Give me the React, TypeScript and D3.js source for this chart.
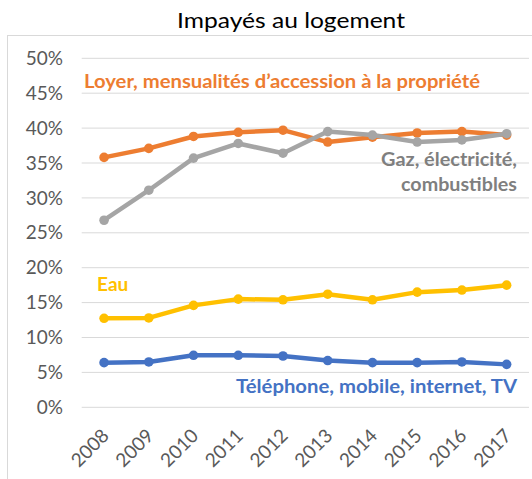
import React from "react";
import * as d3 from "d3";

const years = ["2008", "2009", "2010", "2011", "2012", "2013", "2014", "2015", "2016", "2017"];
const loyer = [35.8, 37.1, 38.8, 39.4, 39.7, 38.0, 38.7, 39.3, 39.5, 39.0];
const gaz = [26.8, 31.1, 35.7, 37.8, 36.4, 39.5, 39.0, 38.0, 38.3, 39.2];
const eau = [12.75, 12.8, 14.6, 15.5, 15.4, 16.2, 15.4, 16.5, 16.8, 17.5];
const telephone = [6.4, 6.5, 7.45, 7.45, 7.35, 6.7, 6.4, 6.4, 6.5, 6.15];
const yTicks = [0, 5, 10, 15, 20, 25, 30, 35, 40, 45, 50];

const FONT = "Lato, 'Open Sans', sans-serif";

const series = [
  { name: "Loyer", values: loyer, color: "#ED7D31" },
  { name: "Gaz", values: gaz, color: "#A5A5A5" },
  { name: "Eau", values: eau, color: "#FFC000" },
  { name: "Telephone", values: telephone, color: "#4472C4" },
];

export default function App() {
  const W = 532;
  const H = 479;
  const x = d3.scaleBand<string>().domain(years).range([81.7, 529]);
  const cx = (d: string) => (x(d) as number) + x.bandwidth() / 2;
  const y = d3.scaleLinear().domain([0, 50]).range([407.3, 58.3]);
  const line = d3
    .line<number>()
    .x((_, i) => cx(years[i]))
    .y((v) => y(v));

  return (
    <svg
      width={W}
      height={H}
      style={{ position: "absolute", left: 0, top: 0, background: "#fff" }}
      fontFamily={FONT}
    >
      <rect x={0} y={0} width={W} height={H} fill="#fff" />
      <rect x={7.5} y={35.5} width={W} height={H} fill="none" stroke="#D9D9D9" strokeWidth={1} />
      <text x={291} y={28} textAnchor="middle" fontSize={21.5} fill="#000" textLength={228} lengthAdjust="spacingAndGlyphs">
        Impayés au logement
      </text>
      {yTicks.map((t) => (
        <g key={t}>
          <line x1={81.7} x2={529} y1={y(t)} y2={y(t)} stroke="#D9D9D9" strokeWidth={1} />
          <text x={63} y={y(t)} dy="0.35em" textAnchor="end" fontSize={19} fill="#595959">
            {t}%
          </text>
        </g>
      ))}
      {years.map((yr) => (
        <text
          key={yr}
          transform={`translate(${cx(yr) + 6},437) rotate(-45)`}
          textAnchor="end"
          fontSize={19}
          fill="#595959"
        >
          {yr}
        </text>
      ))}
      {series.map((s) => (
        <g key={s.name}>
          <path d={line(s.values) as string} fill="none" stroke={s.color} strokeWidth={4.5} strokeLinejoin="round" strokeLinecap="round" />
          {s.values.map((v, i) => (
            <circle key={i} cx={cx(years[i])} cy={y(v)} r={4.8} fill={s.color} />
          ))}
        </g>
      ))}
      <text x={84} y={88} fontSize={19} fontWeight="bold" fill="#ED7D31" textLength={396} lengthAdjust="spacingAndGlyphs">
        Loyer, mensualités d’accession à la propriété
      </text>
      <text x={517} y={166} textAnchor="end" fontSize={19} fontWeight="bold" fill="#7F7F7F" textLength={136} lengthAdjust="spacingAndGlyphs">
        Gaz, électricité,
      </text>
      <text x={517} y={191} textAnchor="end" fontSize={19} fontWeight="bold" fill="#7F7F7F" textLength={116} lengthAdjust="spacingAndGlyphs">
        combustibles
      </text>
      <text x={97} y={291} fontSize={19} fontWeight="bold" fill="#FFC000">
        Eau
      </text>
      <text x={517} y={393} textAnchor="end" fontSize={19} fontWeight="bold" fill="#4472C4" textLength={281} lengthAdjust="spacingAndGlyphs">
        Téléphone, mobile, internet, TV
      </text>
    </svg>
  );
}
